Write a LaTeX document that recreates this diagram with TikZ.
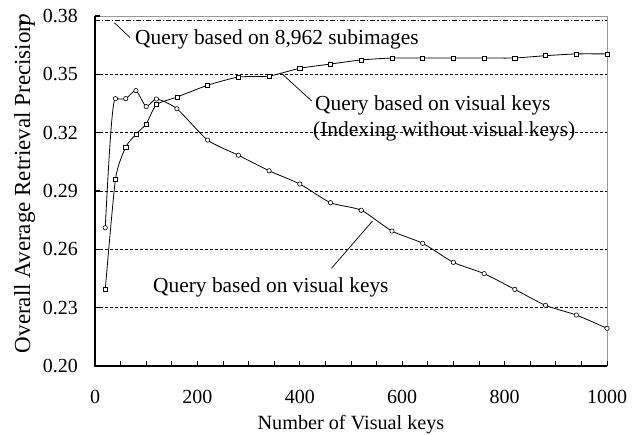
\documentclass[tikz,border=0pt]{standalone}
\usepackage{fontspec}
\setmainfont{Liberation Serif}
\usetikzlibrary{plotmarks}
\begin{document}
\begin{tikzpicture}[x=1pt,y=1pt,
  gridline/.style={dash pattern=on 3pt off 2pt, line width=0.6pt},
  axisline/.style={line width=1.3pt, black},
  frameline/.style={line width=1pt, black!40},
  curveline/.style={line width=0.8pt},
  ticklabel/.style={font=\fontsize{20}{24}\selectfont, inner sep=0pt},
  curvelabel/.style={font=\fontsize{21.4}{26}\selectfont, inner sep=0pt, anchor=base west},
  leader/.style={line width=0.7pt},
  circmark/.style={only marks, mark=*, mark size=2.2pt, mark options={fill=white, draw=black, line width=0.6pt}},
  sqmark/.style={only marks, mark=square*, mark size=2.1pt, mark options={fill=white, draw=black, line width=0.6pt}}
]
\useasboundingbox (0,0) rectangle (642,-434);
\begin{scope}[shift={(95,-366)}, x=0.512pt, y=1.944444pt]
  % grid
  \foreach \q in {30,60,90,120,150} \draw[gridline] (0,\q) -- (1000,\q);
  \draw[dash pattern=on 5pt off 2pt on 1.2pt off 2pt, line width=0.7pt] (0,177.6) -- (1000,177.6);
  % frame
  \draw[frameline] (0,180) -- (1000,180) -- (1000,0);
  % ticks
  \foreach \v in {50,100,...,1000} \draw[line width=1pt] (\v,0) -- ++(0pt,5pt);
  \foreach \q in {0,30,...,180} \draw[axisline] (0,\q) -- ++(5pt,0pt);
  \draw[axisline] (0,180) -- (0,0) -- (1000,0);
  % tick labels
  \foreach \q/\t in {0/0.20,30/0.23,60/0.26,90/0.29,120/0.32,150/0.35,180/0.38}
    \node[ticklabel, anchor=east, xshift=-17pt] (yt\q) at (0,\q) {\t};
  \foreach \v in {0,200,400,600,800,1000}
    \node[ticklabel, yshift=-31pt] (xt\v) at (\v,0) {\v};
  % curve: query based on visual keys (circles)
  \draw[curveline] (20,71.1) .. controls (28,112) and (34,137.5) .. (40,137.5);
  \draw[curveline] plot[smooth, tension=0.4] coordinates {(40,137.5) (60,137.5) (80,141.6) (100,133.4) (120,137.3) (160,132.3) (220,116.2) (280,108.4) (340,100.4) (400,93.6) (460,84.0) (520,80.1) (580,69.4) (640,63.1) (700,53.3) (760,47.5) (820,39.4) (880,31.2) (940,26.2) (1000,19.4)};
  % curve: indexing without visual keys (squares)
  \draw[curveline] plot[smooth, tension=0.35] coordinates {(20,39.4) (40,96.2) (60,112.6) (80,119.2) (100,124.5) (120,134.4) (160,138.3) (220,144.4) (280,148.6) (340,149.1) (400,153.1) (460,155.3) (520,157.4) (580,158.4) (640,158.4) (700,158.4) (760,158.4) (820,158.4) (880,159.6) (940,160.5) (1000,160.5)};
  \draw plot[circmark] coordinates {(20,71.1) (40,137.5) (60,137.5) (80,141.6) (100,133.4) (120,137.3) (160,132.3) (220,116.2) (280,108.4) (340,100.4) (400,93.6) (460,84.0) (520,80.1) (580,69.4) (640,63.1) (700,53.3) (760,47.5) (820,39.4) (880,31.2) (940,26.2) (1000,19.4)};
  \draw plot[sqmark] coordinates {(20,39.4) (40,96.2) (60,112.6) (80,119.2) (100,124.5) (120,134.4) (160,138.3) (220,144.4) (280,148.6) (340,149.1) (400,153.1) (460,155.3) (520,157.4) (580,158.4) (640,158.4) (700,158.4) (760,158.4) (820,158.4) (880,159.6) (940,160.5) (1000,160.5)};
\end{scope}
% labels
\node[curvelabel] (labsub) at (135,-44) {Query based on 8,962 subimages};
\node[curvelabel] (labvk) at (315,-110.5) {Query based on visual keys};
\node[curvelabel] (labidx) at (313,-136) {(Indexing without visual keys)};
\node[curvelabel] (labvk2) at (153,-292.5) {Query based on visual keys};
% leaders
\coordinate (la1) at (114.3,-22.7);
\coordinate (la2) at (281.7,-73.5);
\coordinate (la3) at (372.5,-221);
\coordinate (lb3) at (331.5,-268.3);
\draw[leader] (la1) -- ([xshift=-5pt, yshift=6.5pt]labsub.base west);
\draw[leader] (la2) -- ([xshift=-3.3pt, yshift=9.5pt]labvk.base west);
\draw[leader] (la3) -- (lb3);
% axis titles
\node[rotate=90, font=\fontsize{23}{28}\selectfont, inner sep=0pt, anchor=base] (ylab) at (30,-183.5) {Overall Average Retrieval Precision\kern-0.2em\textit{p}};
\node[font=\fontsize{20.2}{24}\selectfont, inner sep=0pt, anchor=base] (xlab) at (351,-429.2) {Number of Visual keys};
\end{tikzpicture}
\end{document}
